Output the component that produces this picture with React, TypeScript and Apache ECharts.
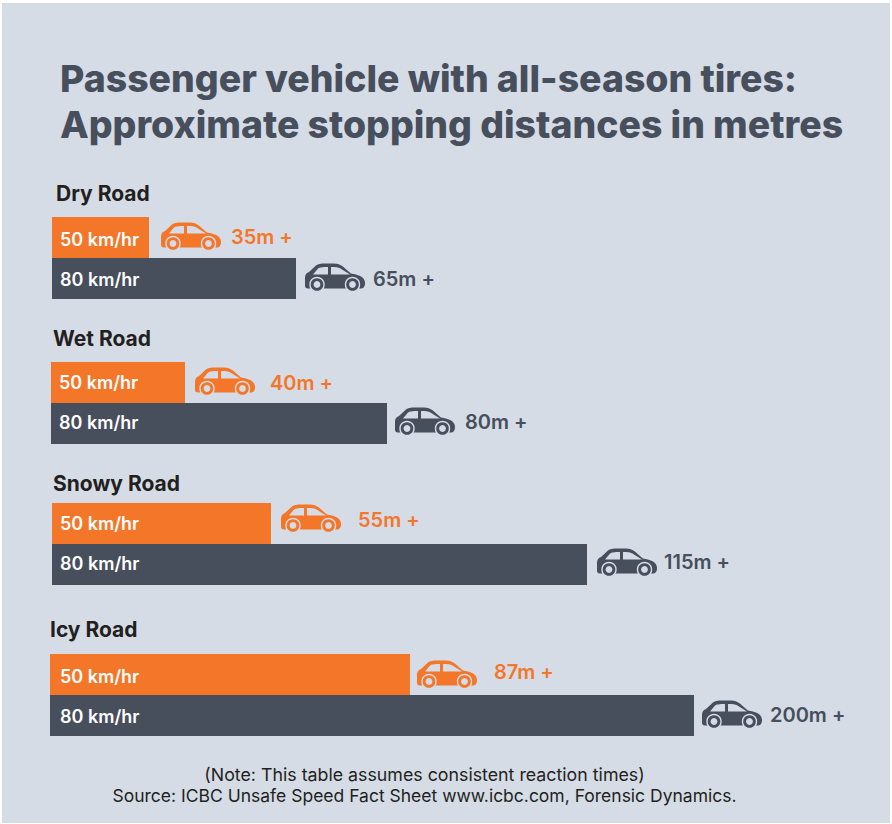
import React, { useEffect, useRef } from "react";
import * as echarts from "echarts";

const FONT = "Inter";
const BG = "#d5dce6";
const ORANGE = "#f47629";
const SLATE = "#474e5c";

const roads = ["Dry Road", "Wet Road", "Snowy Road", "Icy Road"];
const speedLabels = ["50 km/hr", "80 km/hr"];
// Drawn bar lengths (the source is not to scale with its labels)
const bars50 = [97, 134, 219, 360];
const bars80 = [244, 336, 535, 644];
const labels50 = ["35m +", "40m +", "55m +", "87m +"];
const labels80 = ["65m +", "80m +", "115m +", "200m +"];

const gridLeft = [52, 51, 52, 50];
const gridTop = [217, 362, 503, 654];
const roadTitleXY = [[56, 193], [53, 338], [53, 483], [50, 629]];
const carGap50 = [12, 10, 10, 7];
const carGap80 = [9, 8, 10, 8];
const carDy50 = [-1, -1, -5, 0];
const carDy80 = [-1, -2, -2, -1];
const textGap50 = [82, 85, 87, 84];
const textGap80 = [77, 78, 77, 76];
const textDy50 = [-1, 0, -4, -3];
const textDy80 = [0, -2, -3, -1];
const speedDx = [0, 0, 0, 2];
const speedDy50 = [2, 0, 0, 2];
const speedDy80 = [1, -1, -1, 1];

const CAR = "M0 22 L0 14 C0 11 2 9 4 8.5 L11 2 C13 0.5 16 0 20 0 L29 0 C33 0 35 1 38 3 L46 10 C53 11 59 13 60 18 C60.5 21 60 24 57 25 L3 25 C1 25 0 24 0 22 Z";
const WIN_A = "M8 11 L13 5 C14.5 4 17 3.5 23 3.5 L23 11 Z";
const WIN_B = "M26 3.5 L29 3.5 C33 3.5 35 4.5 37 6 L45 11 L26 11 Z";

function App() {
  const ref = useRef<HTMLDivElement>(null);
  useEffect(() => {
    const chart = echarts.init(ref.current!, undefined, { renderer: "svg" });
    const grids = roads.map((_, i) => ({ left: gridLeft[i], top: gridTop[i], width: 800, height: 82 }));
    const xAxes = roads.map((_, i) => ({ type: "value", gridIndex: i, min: 0, max: 800, show: false }));
    const yAxes = roads.map((_, i) => ({ type: "category", gridIndex: i, data: speedLabels, inverse: true, show: false }));
    const series: any[] = [];
    roads.forEach((_, i) => {
      series.push({
        type: "bar",
        xAxisIndex: i,
        yAxisIndex: i,
        barWidth: "100%",
        silent: true,
        data: [
          { value: bars50[i], itemStyle: { color: ORANGE }, label: { offset: [speedDx[i], speedDy50[i]] } },
          { value: bars80[i], itemStyle: { color: SLATE }, label: { offset: [speedDx[i], speedDy80[i]] } },
        ],
        label: {
          show: true,
          position: "insideLeft",
          distance: 8,
          formatter: (p: any) => speedLabels[p.dataIndex],
          color: "#fff",
          fontFamily: FONT,
          fontWeight: 600,
          fontSize: 18,
        },
      });
      series.push({
        type: "custom",
        xAxisIndex: i,
        yAxisIndex: i,
        silent: true,
        data: [
          [bars50[i], 0],
          [bars80[i], 1],
        ],
        renderItem: (_p: any, api: any) => {
          const row = api.value(1);
          const pt = api.coord([api.value(0), row]);
          const color = row === 0 ? ORANGE : SLATE;
          const gap = row === 0 ? carGap50[i] : carGap80[i];
          const dy = row === 0 ? carDy50[i] : carDy80[i];
          const tg = row === 0 ? textGap50[i] : textGap80[i];
          const tdy = row === 0 ? textDy50[i] : textDy80[i];
          const txt = row === 0 ? labels50[i] : labels80[i];
          const x = pt[0] + gap;
          const y = pt[1] + dy - 14;
          const wheel = (cx: number) => [
            { type: "circle", shape: { cx: x + cx, cy: y + 21, r: 7 }, style: { fill: color, stroke: BG, lineWidth: 1.4 } },
            { type: "circle", shape: { cx: x + cx, cy: y + 21, r: 3.4 }, style: { fill: BG } },
          ];
          return {
            type: "group",
            children: [
              { type: "path", shape: { pathData: CAR, x, y, width: 60, height: 25 }, style: { fill: color } },
              { type: "path", shape: { pathData: WIN_A, x: x + 8, y: y + 3.5, width: 15, height: 7.5 }, style: { fill: BG } },
              { type: "path", shape: { pathData: WIN_B, x: x + 26, y: y + 3.5, width: 19, height: 7.5 }, style: { fill: BG } },
              ...wheel(12),
              ...wheel(47.5),
              {
                type: "text",
                x: pt[0] + tg,
                y: pt[1] + tdy,
                style: {
                  text: txt,
                  fill: color,
                  font: `600 20px ${FONT}`,
                  verticalAlign: "middle",
                },
              },
            ],
          };
        },
      });
    });
    chart.setOption({
      animation: false,
      grid: grids,
      xAxis: xAxes,
      yAxis: yAxes,
      series,
      graphic: [
        { type: "rect", shape: { x: 2, y: 3, width: 888, height: 820 }, style: { fill: BG }, z: -10 },
        { type: "text", x: 60, y: 78, style: { text: "Passenger vehicle with all-season tires:", fill: SLATE, font: `800 37.4px ${FONT}`, verticalAlign: "middle" } },
        { type: "text", x: 60, y: 124, style: { text: "Approximate stopping distances in metres", fill: SLATE, font: `800 37.4px ${FONT}`, verticalAlign: "middle" } },
        ...roads.map((r, i) => ({
          type: "text",
          x: roadTitleXY[i][0],
          y: roadTitleXY[i][1],
          style: { text: r, fill: "#231f20", font: `700 21px ${FONT}`, verticalAlign: "middle" },
        })),
        { type: "text", x: 424.5, y: 774, style: { text: "(Note: This table assumes consistent reaction times)", fill: "#231f20", font: `400 17.8px ${FONT}`, align: "center", verticalAlign: "middle" } },
        { type: "text", x: 424.5, y: 795, style: { text: "Source: ICBC Unsafe Speed Fact Sheet www.icbc.com, Forensic Dynamics.", fill: "#231f20", font: `400 17.5px ${FONT}`, align: "center", verticalAlign: "middle" } },
      ],
    });
    return () => chart.dispose();
  }, []);
  return <div ref={ref} style={{ position: "absolute", left: 0, top: 0, width: 892, height: 824 }} />;
}

export default App;
